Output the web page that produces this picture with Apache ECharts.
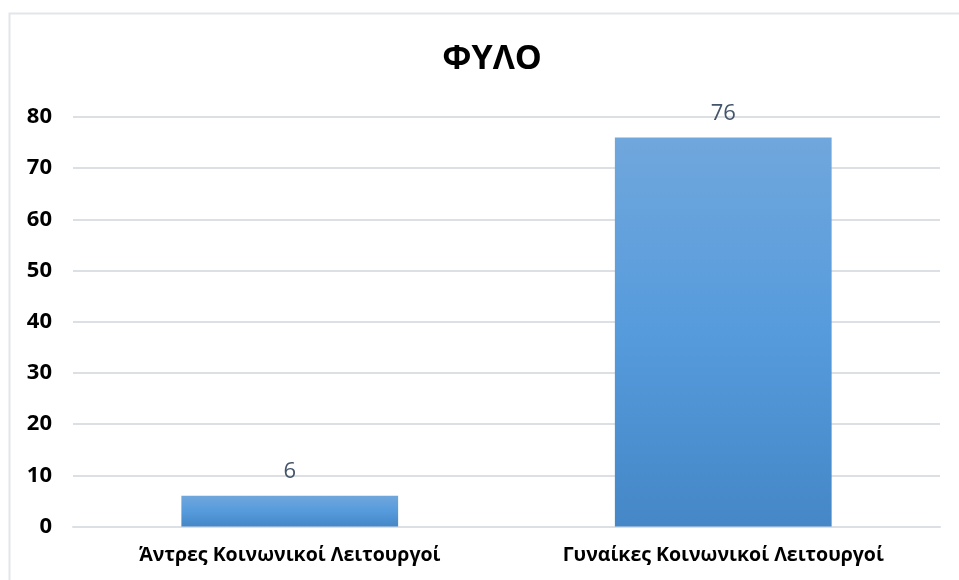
<!DOCTYPE html>
<html>
<head>
    <meta charset="utf-8">
    <title>ΦΥΛΟ</title>
    <script src="https://cdn.jsdelivr.net/npm/echarts@6/dist/echarts.min.js"></script>
    <style>
        html, body { margin: 0; padding: 0; background: #fff; }
        #chart { width: 959px; height: 580px; }
    </style>
</head>
<body>
<div id="chart"></div>
<script type="text/javascript">
    // data
    var categories = ['Άντρες Κοινωνικοί Λειτουργοί', 'Γυναίκες Κοινωνικοί Λειτουργοί'];
    var counts = [6, 76];
    var yTicks = [0, 10, 20, 30, 40, 50, 60, 70, 80];

    var myChart = echarts.init(document.getElementById('chart'));
    myChart.setOption({
        animation: false,
        title: {
            text: 'ΦΥΛΟ',
            left: 487,
            top: 37,
            textAlign: 'center',
            textStyle: {
                fontFamily: 'Open Sans',
                fontWeight: 'bold',
                fontSize: 34,
                color: '#000'
            }
        },
        // light frame around the chart area
        graphic: [{
            type: 'rect',
            shape: { x: 9.5, y: 13.5, width: 1000, height: 1000 },
            style: { fill: 'none', stroke: '#e2e5e9', lineWidth: 2 },
            silent: true
        }],
        grid: {
            left: 73,
            right: 19,
            top: 117,
            bottom: 53.5
        },
        xAxis: {
            type: 'category',
            data: categories,
            axisLine: { show: true, lineStyle: { color: '#dcdfe3', width: 2 } },
            axisTick: { show: false },
            axisLabel: {
                margin: 19,
                fontFamily: 'Open Sans',
                fontWeight: 'bold',
                fontSize: 19.5,
                color: '#000'
            }
        },
        yAxis: {
            type: 'value',
            min: yTicks[0],
            max: yTicks[yTicks.length - 1],
            interval: 10,
            axisLine: { show: false },
            axisTick: { show: false },
            axisLabel: {
                margin: 21,
                fontFamily: 'Open Sans',
                fontWeight: 'bold',
                fontSize: 22,
                color: '#000'
            },
            splitLine: { lineStyle: { color: '#dcdfe3', width: 2 } }
        },
        series: [{
            type: 'bar',
            data: counts,
            barWidth: '50%',
            itemStyle: {
                color: new echarts.graphic.LinearGradient(0, 0, 0, 1, [
                    { offset: 0, color: '#70a7dc' },
                    { offset: 0.5, color: '#569bdc' },
                    { offset: 1, color: '#4587c7' }
                ])
            },
            label: {
                show: true,
                position: 'top',
                distance: 13,
                fontFamily: 'Open Sans',
                fontSize: 22,
                color: '#44546a'
            }
        }]
    });
</script>
</body>
</html>
